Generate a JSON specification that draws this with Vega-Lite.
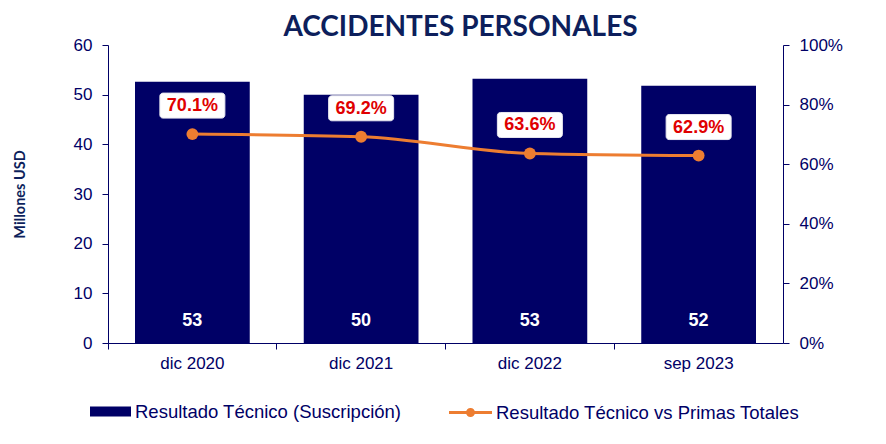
{
  "$schema": "https://vega.github.io/schema/vega-lite/v6.json",
  "width": 675,
  "height": 298,
  "autosize": {"type": "none"},
  "padding": {"left": 108, "top": 45, "right": 103, "bottom": 101},
  "background": "white",
  "title": {
    "text": "ACCIDENTES PERSONALES",
    "font": "Lato",
    "fontSize": 28,
    "fontWeight": "bold",
    "color": "#0d1f5c",
    "anchor": "middle",
    "dx": 15,
    "dy": 14,
    "offset": 8
  },
  "data": {
    "values": [
      {"periodo": "dic 2020", "resultado": 52.6, "pct": 0.701},
      {"periodo": "dic 2021", "resultado": 50.0, "pct": 0.692},
      {"periodo": "dic 2022", "resultado": 53.2, "pct": 0.636},
      {"periodo": "sep 2023", "resultado": 51.8, "pct": 0.629}
    ]
  },
  "encoding": {
    "x": {
      "field": "periodo",
      "type": "nominal",
      "sort": null,
      "scale": {"paddingInner": 0, "paddingOuter": 0},
      "axis": {
        "title": null,
        "labelAngle": 0,
        "bandPosition": 0,
        "tickSize": 6,
        "labelPadding": 6,
        "grid": false
      }
    }
  },
  "layer": [
    {
      "encoding": {
        "y": {
          "field": "resultado",
          "type": "quantitative",
          "scale": {"domain": [0, 60]},
          "axis": {
            "orient": "left",
            "title": "Millones USD",
            "titleFont": "Lato",
            "titleFontWeight": "bold",
            "titleFontSize": 14.5,
            "titleColor": "#0d1f5c",
            "titlePadding": 46,
            "values": [0, 10, 20, 30, 40, 50, 60],
            "grid": false
          }
        }
      },
      "layer": [
        {
          "mark": {"type": "bar", "width": {"band": 0.68}, "color": "#000066"},
          "encoding": {
            "color": {
              "datum": "Resultado Técnico (Suscripción)",
              "scale": {"range": ["#000066"]},
              "legend": {
                "title": null,
                "orient": "none",
                "legendX": -18,
                "legendY": 346,
                "symbolType": "M-1,-0.24H1V0.24H-1Z",
                "symbolSize": 1681,
                "symbolStrokeWidth": 0
              }
            }
          }
        },
        {
          "mark": {"type": "text", "color": "white", "font": "Liberation Sans", "fontWeight": "bold", "fontSize": 18, "baseline": "middle", "dy": -22},
          "encoding": {
            "y": {"datum": 0},
            "text": {"field": "resultado", "type": "quantitative", "format": ".0f"}
          }
        }
      ]
    },
    {
      "encoding": {
        "y": {
          "field": "pct",
          "type": "quantitative",
          "scale": {"domain": [0, 1]},
          "axis": {
            "orient": "right",
            "title": null,
            "format": ".0%",
            "values": [0, 0.2, 0.4, 0.6, 0.8, 1],
            "grid": false
          }
        }
      },
      "layer": [
        {
          "mark": {"type": "line", "interpolate": "monotone", "strokeWidth": 3, "point": {"filled": true, "size": 140, "opacity": 1}},
          "encoding": {
            "color": {
              "datum": "Resultado Técnico vs Primas Totales",
              "scale": {"range": ["#ED7D31"]},
              "legend": {
                "title": null,
                "orient": "none",
                "legendX": 341,
                "legendY": 346,
                "symbolType": "M-1,-0.07H1V0.07H-1Z M0.21,0A0.21,0.21 0 1,1 -0.21,0A0.21,0.21 0 1,1 0.21,0Z",
                "symbolSize": 1849,
                "symbolStrokeWidth": 0,
                "symbolFillColor": "#ED7D31",
                "encode": {"symbols": {"update": {"fill": {"value": "#ED7D31"}, "stroke": {"value": "#ED7D31"}, "strokeWidth": {"value": 0}}}}
              }
            }
          }
        },
        {
          "mark": {"type": "bar", "width": 65, "color": "white", "yOffset": -41, "y2Offset": -16, "cornerRadius": 3, "stroke": "#e8e8f0", "strokeWidth": 1},
          "encoding": {
            "y2": {"field": "pct"}
          }
        },
        {
          "mark": {"type": "text", "color": "#e00000", "font": "Liberation Sans", "fontWeight": "bold", "fontSize": 18, "baseline": "middle", "dy": -28},
          "encoding": {
            "text": {"field": "pct", "type": "quantitative", "format": ".1%"}
          }
        }
      ]
    }
  ],
  "resolve": {"scale": {"y": "independent", "color": "independent"}},
  "config": {
    "view": {"stroke": null},
    "font": "Liberation Sans",
    "axis": {
      "labelFont": "Liberation Sans",
      "labelFontSize": 17,
      "labelColor": "#000066",
      "domainColor": "#000066",
      "tickColor": "#000066",
      "tickSize": 6,
      "labelPadding": 10
    },
    "legend": {
      "labelFont": "Liberation Sans",
      "labelFontSize": 18.5,
      "labelColor": "#000066",
      "labelLimit": 500,
      "padding": 0,
      "labelOffset": 4
    }
  }
}
